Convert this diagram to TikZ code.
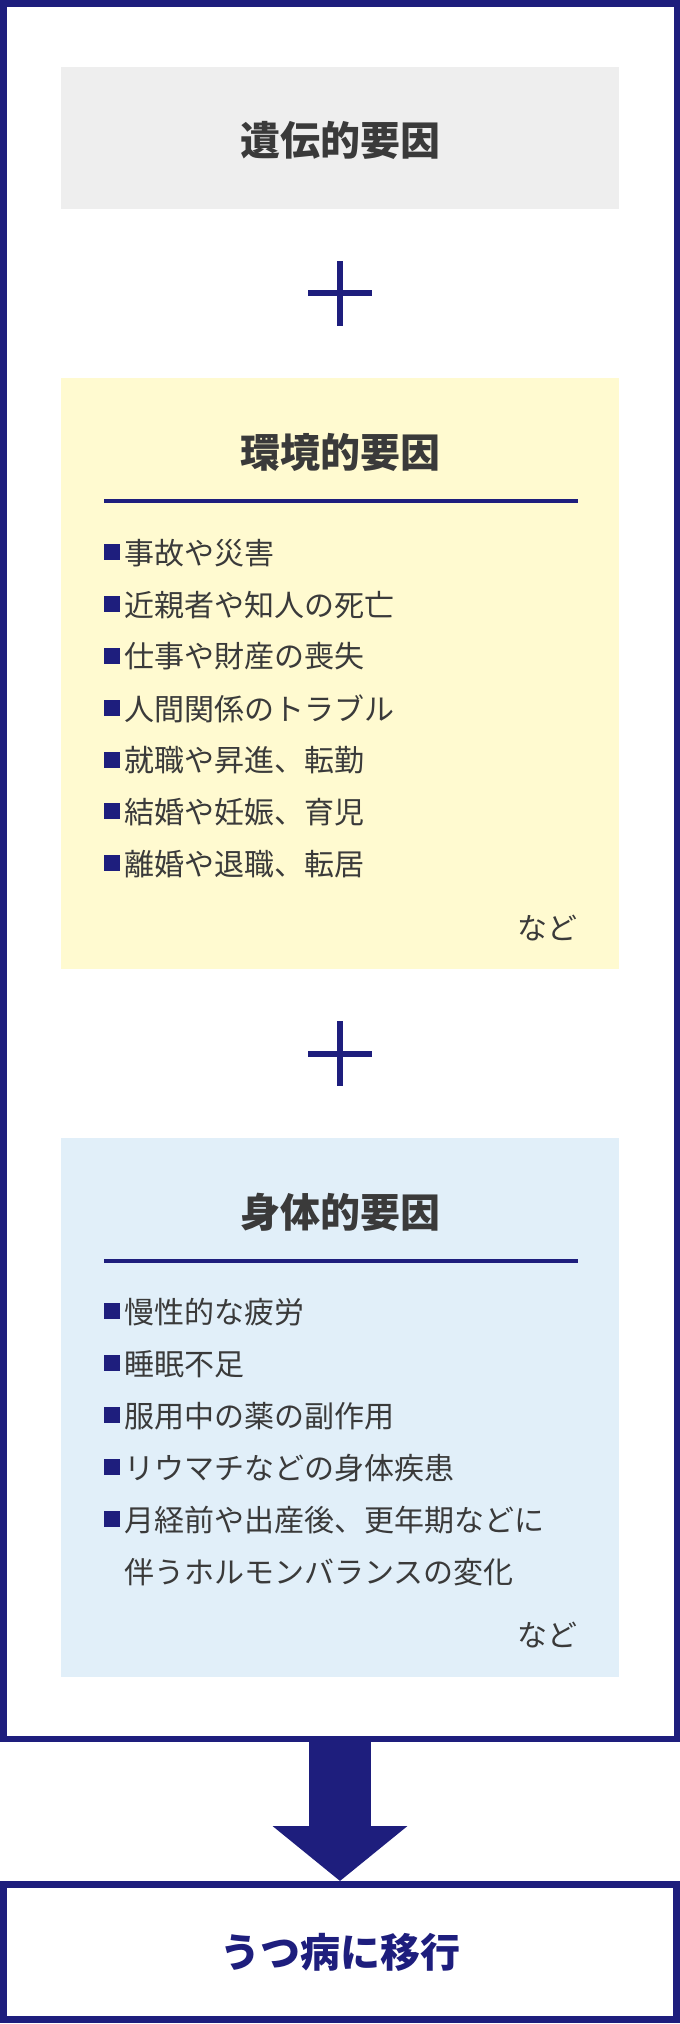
\documentclass[tikz,border=0pt]{standalone}
\usepackage{fontspec}
\setmainfont{Noto Sans CJK JP}
\usetikzlibrary{arrows.meta}
\definecolor{navy}{RGB}{30,30,125}
\definecolor{textgray}{RGB}{58,58,58}
\definecolor{genegray}{RGB}{238,238,238}
\definecolor{envyellow}{RGB}{255,250,208}
\definecolor{bodyblue}{RGB}{225,239,249}
\newcommand{\itemmark}{\textcolor{navy}{\rule[4pt]{16pt}{16pt}}\hspace{4pt}}

\begin{document}
\begin{tikzpicture}[x=1pt, y=-1pt,
    panel/.style={inner sep=0pt, minimum width=558pt},
    heading/.style={inner sep=0pt, font=\fontsize{40}{40}\selectfont\bfseries, text=textgray},
    entry/.style={anchor=west, inner sep=0pt, font=\fontsize{30}{30}\selectfont, text=textgray},
    plus/.style={line width=6pt, navy}]
\useasboundingbox (0,0) rectangle (680,2024);
% Draw outer frame
\node[draw=navy, line width=6.5pt, minimum width=673.5pt, minimum height=1735.5pt, inner sep=0pt] (frame) at (340,871) {};
% Draw genetic box
\node[panel, fill=genegray, minimum height=142pt] (gene) at (340,138) {};
\node[heading] (genetitle) at (340,140) {遺伝的要因};
\draw[plus] (308,293) -- (372,293) (340,261) -- (340,326);
% Draw environment box
\node[panel, fill=envyellow, minimum height=591pt] (env) at (340,673.5) {};
\node[heading] (envtitle) at (340,452) {環境的要因};
\draw[navy, line width=4pt] (104,501) -- (578,501);
\foreach \t [count=\i] in {事故や災害, 近親者や知人の死亡, 仕事や財産の喪失, 人間関係のトラブル,
    就職や昇進、転勤, 結婚や妊娠、育児, 離婚や退職、転居}
    \node[entry] (env\i) at (104,{553+51.8*(\i-1)}) {\itemmark\t};
\node[entry, anchor=east] (envetc) at (578,928) {など};
\draw[plus] (308,1054) -- (372,1054) (340,1021) -- (340,1086);
% Draw physical box
\node[panel, fill=bodyblue, minimum height=539pt] (body) at (340,1407.5) {};
\node[heading] (bodytitle) at (340,1212) {身体的要因};
\draw[navy, line width=4pt] (104,1261) -- (578,1261);
\foreach \t [count=\i] in {慢性的な疲労, 睡眠不足, 服用中の薬の副作用, リウマチなどの身体疾患,
    月経前や出産後、更年期などに}
    \node[entry] (body\i) at (104,{1312+52*(\i-1)}) {\itemmark\t};
\node[entry] (body6) at (124,1572) {伴うホルモンバランスの変化};
\node[entry, anchor=east] (bodyetc) at (578,1635) {など};
% Draw result box and arrow
\node[draw=navy, line width=7pt, minimum width=673pt, minimum height=135pt, inner sep=0pt,
    font=\fontsize{40}{40}\selectfont\bfseries, text=navy] (result) at (340,1952) {うつ病に移行};
\draw[navy, line width=62pt, -{Triangle[width=132pt, length=55pt]}] (frame.south) -- (result.north);
\end{tikzpicture}
\end{document}
